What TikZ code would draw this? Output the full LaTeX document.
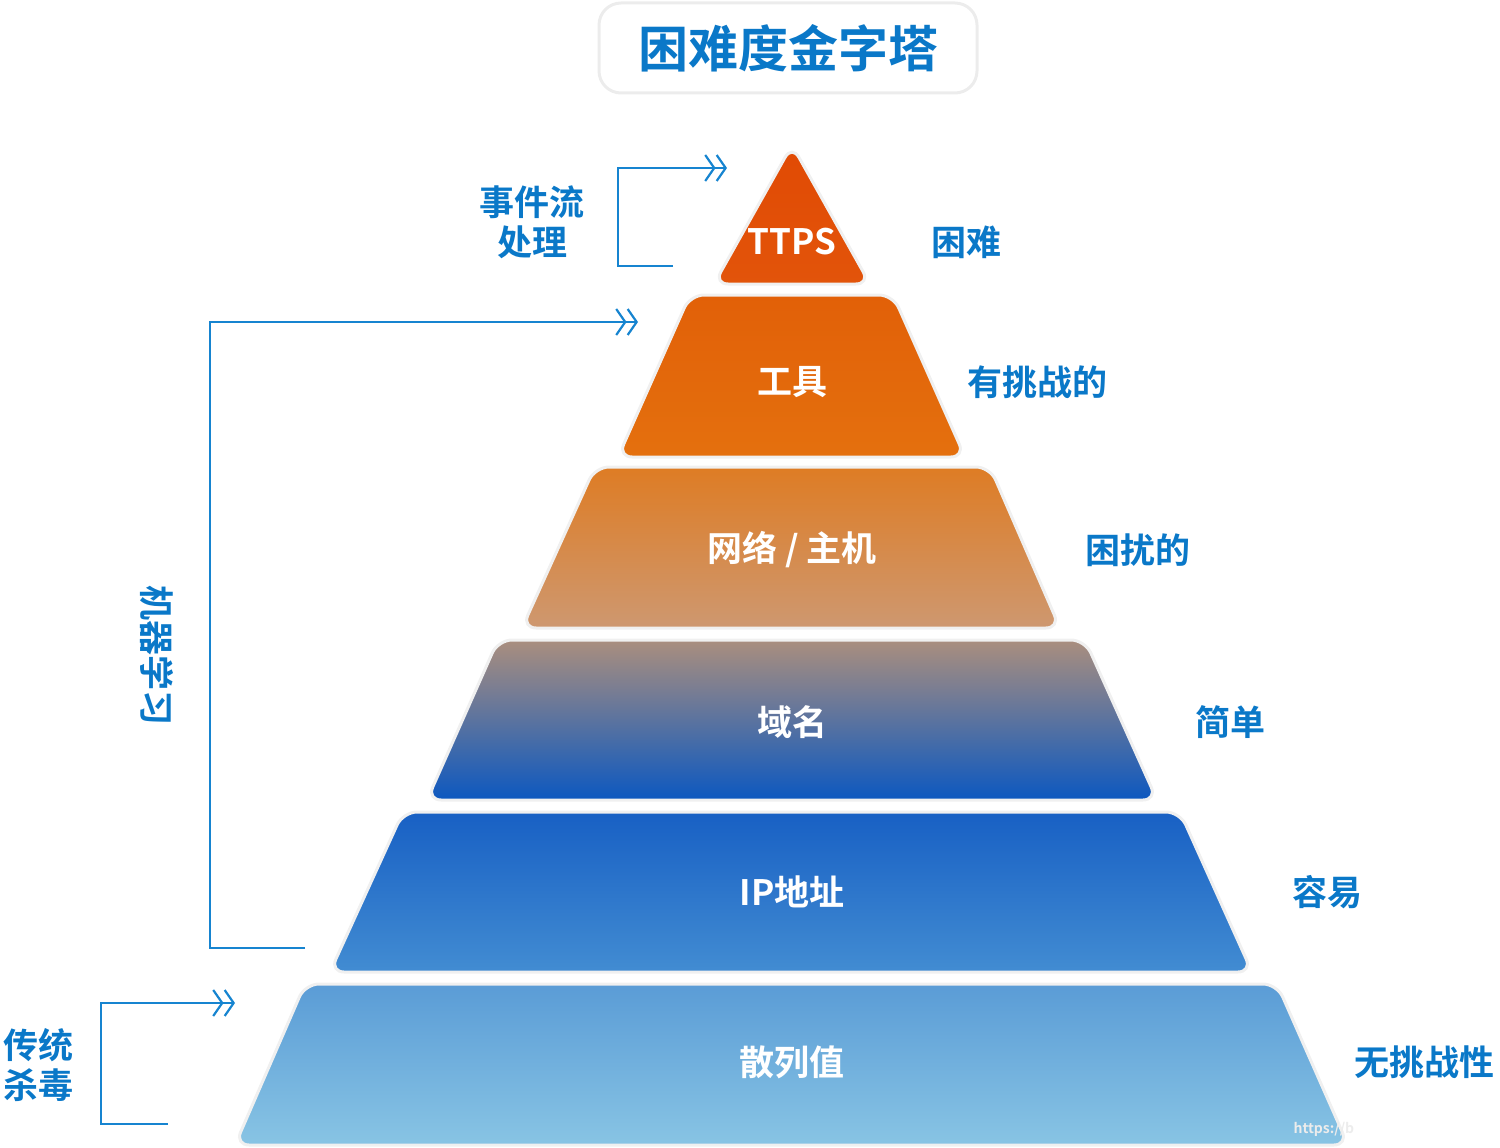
\documentclass[tikz,border=0pt]{standalone}
\usepackage{fontspec}
\setmainfont{Noto Sans CJK SC Bold}
\usetikzlibrary{arrows.meta}
\definecolor{lbl}{HTML}{0A78C8}
\definecolor{brk}{HTML}{1684D0}
\tikzset{
 lvl/.style={draw=gray!12,line width=3pt,rounded corners=14pt},
 intxt/.style={text=white,font=\fontsize{35}{40}\selectfont},
 rtxt/.style={text=lbl,font=\fontsize{35}{40}\selectfont},
 brkline/.style={draw=brk,line width=2.2pt,-{Straight Barb[length=9pt,width=26pt,line width=2.2pt] Straight Barb[length=9pt,width=26pt,line width=2.2pt]}}
}
\begin{document}
\begin{tikzpicture}[x=1pt,y=-1pt]
\useasboundingbox (0,0) rectangle (1500,1148);
% title
\node[draw=gray!15,line width=3pt,rounded corners=22pt,minimum width=378pt,minimum height=90pt,text=lbl,font=\fontsize{50}{56}\selectfont] (title) at (788,48) {困难度金字塔};
% levels
\shade[lvl,top color={rgb,255:red,225;green,74;blue,4},bottom color={rgb,255:red,226;green,84;blue,10}] (792,145) -- (870,284) -- (714,284) -- cycle;
\shade[lvl,top color={rgb,255:red,226;green,96;blue,8},bottom color={rgb,255:red,228;green,112;blue,14}] (690,295) -- (893,295) -- (965,457) -- (618,457) -- cycle;
\shade[lvl,top color={rgb,255:red,222;green,124;blue,36},bottom color={rgb,255:red,206;green,152;blue,112}] (595,467) -- (990,467) -- (1060,628) -- (522,628) -- cycle;
\shade[lvl,top color={rgb,255:red,170;green,142;blue,126},bottom color={rgb,255:red,12;green,88;blue,192}] (498,640) -- (1085,640) -- (1157,800) -- (427,800) -- cycle;
\shade[lvl,top color={rgb,255:red,24;green,96;blue,196},bottom color={rgb,255:red,66;green,140;blue,210}] (403,812) -- (1180,812) -- (1252,972) -- (330,972) -- cycle;
\shade[lvl,top color={rgb,255:red,90;green,156;blue,214},bottom color={rgb,255:red,136;green,196;blue,228}] (305,984) -- (1277,984) -- (1348,1145) -- (235,1145) -- cycle;
% inner texts
\node[intxt] (t1) at (792,242) {TTPS};
\node[intxt] (t2) at (792,382) {工具};
\node[intxt] (t3) at (792,550) {网络 / 主机};
\node[intxt] (t4) at (792,722) {域名};
\node[intxt] (t5) at (792,892) {IP地址};
\node[intxt] (t6) at (792,1062) {散列值};
% right texts
\node[rtxt] (r1) at (966,242) {困难};
\node[rtxt] (r2) at (1037,382) {有挑战的};
\node[rtxt] (r3) at (1138,550) {困扰的};
\node[rtxt] (r4) at (1230,722) {简单};
\node[rtxt] (r5) at (1327,892) {容易};
\node[rtxt] (r6) at (1424,1062) {无挑战性};
% brackets
\coordinate (a1) at (673,266); \coordinate (a2) at (727,168);
\draw[brkline] (a1) -- (618,266) -- (618,168) -- (a2);
\node[rtxt,align=center] (l1) at (532,222) {事件流\\处理};
\coordinate (b1) at (305,948); \coordinate (b2) at (638,322);
\draw[brkline] (b1) -- (210,948) -- (210,322) -- (b2);
\node[rtxt,rotate=-90] (l2) at (157,655) {机器学习};
\coordinate (c1) at (168,1124); \coordinate (c2) at (235,1003);
\draw[brkline] (c1) -- (101,1124) -- (101,1003) -- (c2);
\node[rtxt,align=center] (l3) at (38,1065) {传统\\杀毒};
\node[text=white!85!gray,font=\fontsize{14}{16}\selectfont,anchor=west] (wm) at (1290,1129) {https://b};
\end{tikzpicture}
\end{document}
